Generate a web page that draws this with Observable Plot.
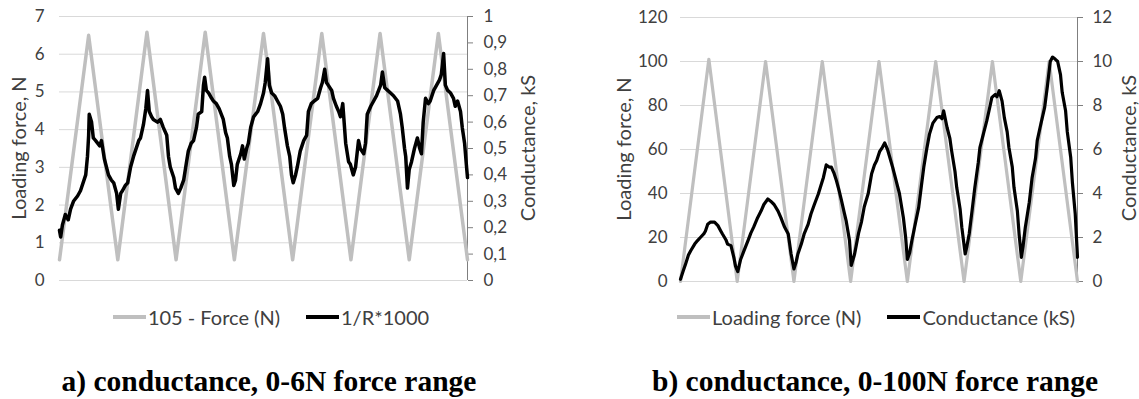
<!DOCTYPE html>
<html>
<head>
<meta charset="utf-8">
<script src="https://cdn.jsdelivr.net/npm/d3@7"></script>
<script src="https://cdn.jsdelivr.net/npm/@observablehq/plot@0.6"></script>
<style>
  html, body { margin: 0; padding: 0; background: #fff; }
  #wrap { position: relative; width: 1139px; height: 399px; font-family: Lato, "Open Sans", sans-serif; overflow: hidden; }
  .panel { position: absolute; top: 0; }
  .legend { position: absolute; top: 305px; height: 24px; line-height: 24px; display: flex; justify-content: center; gap: 26px; font-size: 20px; color: #404040; white-space: nowrap; }
  .legend .item { display: flex; align-items: center; }
  .legend .sw { display: inline-block; width: 33px; height: 4px; margin-right: 2px; }
  .title { position: absolute; top: 365px; text-align: center; font-family: "Liberation Serif", "Times New Roman", serif; font-weight: bold; font-size: 29.5px; line-height: 1.107; color: #000; white-space: nowrap; }
  .ylab { position: absolute; width: 300px; height: 24px; line-height: 24px; text-align: center; font-size: 20px; color: #404040; transform: translate(-50%, -50%) rotate(-90deg); white-space: nowrap; }
</style>
</head>
<body>
<div id="wrap"></div>
<script>
// ---------- Panel a: 0-6 N force range ----------
// time in load cycles (0..7)
const aForceT = [0,0.5,1,1.5,2,2.5,3,3.5,4,4.5,5,5.5,6,6.5,7];
const aForceN = [0.55,6.5,0.55,6.58,0.55,6.58,0.55,6.55,0.55,6.55,0.55,6.55,0.55,6.55,0.55];
const aCondT = [0.00,0.02,0.05,0.10,0.15,0.19,0.24,0.31,0.36,0.45,0.48,0.50,0.51,0.55,0.58,0.62,0.69,0.72,0.77,0.84,0.89,0.93,0.98,1.01,1.05,1.08,1.13,1.17,1.22,1.27,1.30,1.36,1.39,1.44,1.48,1.51,1.54,1.58,1.61,1.68,1.73,1.78,1.84,1.87,1.90,1.96,1.99,2.04,2.08,2.13,2.18,2.21,2.26,2.30,2.35,2.38,2.44,2.47,2.49,2.52,2.56,2.61,2.64,2.69,2.74,2.81,2.85,2.88,2.92,2.95,2.99,3.02,3.05,3.11,3.14,3.17,3.21,3.24,3.28,3.33,3.40,3.45,3.50,3.53,3.57,3.60,3.64,3.69,3.74,3.79,3.83,3.86,3.91,3.95,3.98,4.01,4.05,4.08,4.13,4.19,4.24,4.27,4.32,4.37,4.43,4.48,4.51,4.55,4.58,4.61,4.67,4.70,4.75,4.79,4.82,4.86,4.91,4.96,4.99,5.04,5.08,5.13,5.16,5.22,5.25,5.28,5.34,5.39,5.44,5.51,5.54,5.58,5.63,5.68,5.73,5.80,5.85,5.88,5.92,5.94,5.97,6.00,6.04,6.09,6.14,6.18,6.21,6.24,6.28,6.33,6.36,6.42,6.47,6.52,6.55,6.59,6.62,6.66,6.71,6.76,6.79,6.83,6.88,6.91,6.95,6.98,7.00];
const aCondKS = [0.19,0.165,0.21,0.25,0.23,0.27,0.30,0.32,0.34,0.40,0.47,0.55,0.63,0.60,0.54,0.53,0.51,0.53,0.46,0.40,0.38,0.37,0.33,0.27,0.33,0.34,0.36,0.37,0.43,0.47,0.49,0.53,0.54,0.59,0.65,0.72,0.64,0.62,0.61,0.60,0.61,0.58,0.55,0.47,0.43,0.39,0.35,0.33,0.35,0.38,0.45,0.49,0.52,0.53,0.58,0.63,0.64,0.74,0.77,0.72,0.71,0.69,0.68,0.67,0.65,0.61,0.56,0.54,0.47,0.44,0.36,0.38,0.44,0.48,0.51,0.46,0.50,0.52,0.58,0.62,0.64,0.67,0.71,0.75,0.84,0.74,0.71,0.70,0.68,0.66,0.63,0.58,0.51,0.47,0.40,0.37,0.40,0.43,0.49,0.53,0.55,0.64,0.67,0.68,0.69,0.73,0.75,0.80,0.75,0.74,0.72,0.69,0.66,0.64,0.62,0.67,0.52,0.45,0.44,0.40,0.43,0.53,0.50,0.48,0.52,0.63,0.66,0.68,0.70,0.74,0.79,0.73,0.72,0.71,0.70,0.68,0.63,0.58,0.50,0.47,0.35,0.42,0.45,0.50,0.54,0.50,0.48,0.60,0.69,0.67,0.68,0.72,0.74,0.76,0.78,0.86,0.74,0.72,0.71,0.69,0.66,0.68,0.64,0.58,0.52,0.44,0.39];
const aLeftTicks = [0,1,2,3,4,5,6,7];
const aRightTicks = [0,0.1,0.2,0.3,0.4,0.5,0.6,0.7,0.8,0.9,1];

// ---------- Panel b: 0-100 N force range ----------
const bForceT = [0,0.5,1,1.5,2,2.5,3,3.5,4,4.5,5,5.5,6,6.5,7];
const bForceN = [0,101,0,100,0,100,0,100,0,100,0,100,0,100,0];
const bCondT = [0.00,0.05,0.09,0.14,0.18,0.25,0.30,0.35,0.41,0.44,0.48,0.53,0.60,0.66,0.71,0.74,0.80,0.83,0.89,0.94,0.97,1.01,1.06,1.12,1.19,1.24,1.29,1.36,1.42,1.47,1.54,1.59,1.65,1.72,1.77,1.83,1.90,1.95,2.00,2.04,2.07,2.13,2.18,2.25,2.30,2.36,2.43,2.48,2.52,2.57,2.62,2.66,2.71,2.75,2.80,2.84,2.89,2.92,2.98,3.01,3.07,3.14,3.19,3.24,3.31,3.37,3.42,3.46,3.51,3.56,3.60,3.65,3.69,3.74,3.77,3.83,3.86,3.93,3.97,4.00,4.04,4.08,4.13,4.20,4.25,4.29,4.34,4.39,4.45,4.52,4.57,4.61,4.64,4.70,4.75,4.78,4.84,4.87,4.93,4.96,5.02,5.05,5.09,5.14,5.19,5.25,5.28,5.35,5.40,5.46,5.49,5.55,5.58,5.62,5.67,5.71,5.76,5.79,5.85,5.88,5.94,5.97,6.01,6.04,6.08,6.15,6.20,6.26,6.29,6.34,6.42,6.47,6.52,6.56,6.61,6.65,6.70,6.73,6.79,6.82,6.88,6.91,6.96,6.99,7.00];
const bCondKS = [0.1,0.5,0.8,1.2,1.4,1.7,1.86,2.0,2.16,2.3,2.6,2.7,2.7,2.54,2.3,2.16,1.9,1.7,1.63,1.1,0.7,0.45,1.0,1.4,1.86,2.2,2.47,2.9,3.2,3.5,3.75,3.65,3.5,3.2,2.9,2.5,2.16,1.25,0.57,0.9,1.25,1.7,2.16,2.6,3.07,3.5,3.98,4.4,4.73,5.3,5.2,5.2,4.9,4.58,4.1,3.67,3.1,2.77,1.86,0.73,1.25,2.2,2.7,3.4,4.0,4.9,5.3,5.5,5.9,6.1,6.3,6.0,5.65,5.2,4.9,4.3,4.0,2.9,2.0,1.0,1.3,1.86,2.5,3.37,4.4,5.2,6.0,6.7,7.2,7.45,7.5,7.4,7.76,7.0,6.5,5.95,5.0,4.28,3.3,2.47,1.25,1.6,2.16,3.2,4.28,5.4,6.1,6.8,7.3,8.0,8.37,8.5,8.4,8.67,8.2,7.45,6.8,6.1,5.2,4.28,3.2,2.16,1.1,1.6,2.47,3.6,4.73,5.6,6.4,7.0,7.9,8.9,10.0,10.2,10.1,10.0,9.4,8.6,7.76,6.8,5.65,4.5,3.07,1.6,1.1];
const bLeftTicks = [0,20,40,60,80,100,120];
const bRightTicks = [0,2,4,6,8,10,12];

const commaFmt = v => String(Math.round(v * 100) / 100).replace(".", ",");

function makePanel(cfg) {
  const force = cfg.forceT.map((t, i) => ({t, v: cfg.forceN[i]}));
  const cond = cfg.condT.map((t, i) => ({t, v: cfg.condKS[i] * cfg.factor}));
  const yMax = cfg.leftTicks[cfg.leftTicks.length - 1];
  return Plot.plot({
    width: cfg.width, height: cfg.height,
    marginLeft: cfg.ml, marginRight: cfg.mr, marginTop: cfg.mt, marginBottom: cfg.mb,
    style: {fontFamily: "Lato, 'Open Sans', sans-serif", fontSize: "17px", color: "#404040", background: "white"},
    x: {domain: [0, 7], axis: null},
    y: {domain: [0, yMax], axis: null},
    marks: [
      Plot.gridY(cfg.leftTicks, {stroke: "#d9d9d9", strokeOpacity: 1, strokeWidth: 1}),
      Plot.axisY(cfg.leftTicks, {anchor: "left", tickSize: 0, tickPadding: cfg.lpad, fontSize: 17, label: null}),
      Plot.axisY(cfg.rightTicks.map(v => v * cfg.factor), {anchor: "right", tickSize: 5, tickPadding: cfg.rpad,
        stroke: "#7f7f7f", fontSize: 17, tickFormat: v => commaFmt(v / cfg.factor), label: null}),
      Plot.ruleX([7], {stroke: "#7f7f7f", strokeWidth: 1}),
      Plot.line(force, {x: "t", y: "v", stroke: "#bfbfbf", strokeWidth: cfg.sw}),
      Plot.line(cond, {x: "t", y: "v", stroke: "#000000", strokeWidth: cfg.sw})
    ]
  });
}

const wrap = document.getElementById("wrap");

function addPanel(left, plot, labels, legendItems, legendCenter, title, titleCenter) {
  const p = document.createElement("div");
  p.className = "panel";
  p.style.left = left + "px";
  p.appendChild(plot);
  wrap.appendChild(p);
  for (const [text, cx, cy] of labels) {
    const l = document.createElement("div");
    l.className = "ylab";
    l.style.left = cx + "px";
    l.style.top = cy + "px";
    l.textContent = text;
    wrap.appendChild(l);
  }
  const lg = document.createElement("div");
  lg.className = "legend";
  lg.style.left = (legendCenter - 300) + "px";
  lg.style.width = "600px";
  for (const [name, color] of legendItems) {
    const it = document.createElement("span");
    it.className = "item";
    const sw = document.createElement("span");
    sw.className = "sw";
    sw.style.background = color;
    it.appendChild(sw);
    it.appendChild(document.createTextNode(name));
    lg.appendChild(it);
  }
  wrap.appendChild(lg);
  const t = document.createElement("div");
  t.className = "title";
  t.style.left = (titleCenter - 300) + "px";
  t.style.width = "600px";
  t.textContent = title;
  wrap.appendChild(t);
}

const plotA = makePanel({
  forceT: aForceT, forceN: aForceN, condT: aCondT, condKS: aCondKS, factor: 7,
  leftTicks: aLeftTicks, rightTicks: aRightTicks,
  width: 570, height: 300, ml: 59, mr: 103, mt: 16, mb: 20, lpad: 15, rpad: 11, sw: 3.5
});
const plotB = makePanel({
  forceT: bForceT, forceN: bForceN, condT: bCondT, condKS: bCondKS, factor: 10,
  leftTicks: bLeftTicks, rightTicks: bRightTicks,
  width: 569, height: 301, ml: 110, mr: 62, mt: 17, mb: 20, lpad: 13, rpad: 10, sw: 3.2
});

addPanel(0, plotA, [["Loading force, N", 18, 148], ["Conductance, kS", 527, 148]],
  [["105 - Force (N)", "#bfbfbf"], ["1/R*1000", "#000"]], 271, "a) conductance, 0-6N force range", 269);
addPanel(570, plotB, [["Loading force, N", 623, 149], ["Conductance, kS", 1128, 148]],
  [["Loading force (N)", "#bfbfbf"], ["Conductance (kS)", "#000"]], 876, "b) conductance, 0-100N force range", 875);
</script>
</body>
</html>
